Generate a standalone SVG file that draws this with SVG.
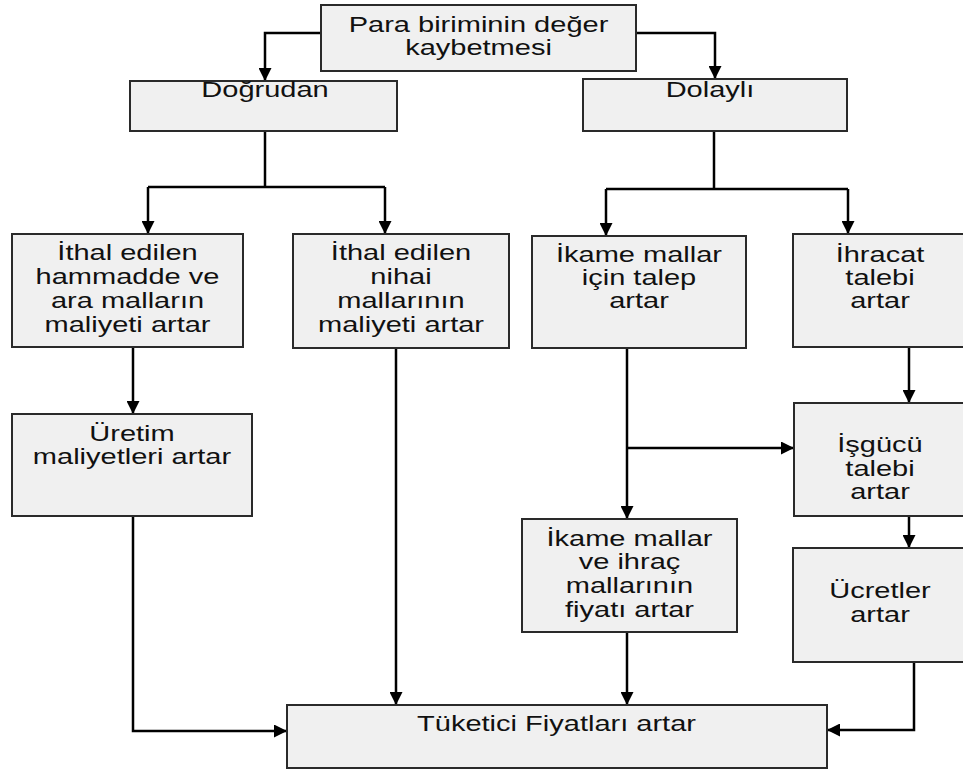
<svg xmlns="http://www.w3.org/2000/svg" width="963" height="771" viewBox="0 0 963 771">
<style>
.box{fill:#f0f0f0;stroke:#2a2a2a;stroke-width:2}
.t{font-family:"Liberation Sans",Arial,sans-serif;font-size:21.5px;text-anchor:middle;fill:#111}
.c{fill:none;stroke:#000;stroke-width:2.5}
</style>
<defs>
<marker id="ah" viewBox="0 0 10 10" refX="10" refY="5" markerWidth="13" markerHeight="13" markerUnits="userSpaceOnUse" orient="auto">
<path d="M0,0 L10,5 L0,10 z" fill="#000"/>
</marker>
</defs>
<rect width="963" height="771" fill="#fff"/>
<g id="connectors">
<path class="c" d="M321,33 H265 V81" marker-end="url(#ah)"/>
<path class="c" d="M636,33 H715 V79" marker-end="url(#ah)"/>
<path class="c" d="M265,131 V187"/>
<path class="c" d="M148,187 H385"/>
<path class="c" d="M148,187 V234" marker-end="url(#ah)"/>
<path class="c" d="M385,187 V234" marker-end="url(#ah)"/>
<path class="c" d="M714,131 V189"/>
<path class="c" d="M606,189 H848"/>
<path class="c" d="M606,189 V236" marker-end="url(#ah)"/>
<path class="c" d="M848,189 V234" marker-end="url(#ah)"/>
<path class="c" d="M133,347 V414" marker-end="url(#ah)"/>
<path class="c" d="M133,516 V731 H287" marker-end="url(#ah)"/>
<path class="c" d="M396,348 V705" marker-end="url(#ah)"/>
<path class="c" d="M627,348 V519" marker-end="url(#ah)"/>
<path class="c" d="M627,448 H794" marker-end="url(#ah)"/>
<path class="c" d="M909,347 V403" marker-end="url(#ah)"/>
<path class="c" d="M909,516 V548" marker-end="url(#ah)"/>
<path class="c" d="M914,662 V730 H827" marker-end="url(#ah)"/>
<path class="c" d="M627,632 V705" marker-end="url(#ah)"/>
</g>
<g id="para">
<rect class="box" x="321" y="5" width="315" height="66"/>
<text class="t" transform="translate(478.5,31.5) scale(1.35,1)">Para biriminin değer</text>
<text class="t" transform="translate(478.5,55) scale(1.35,1)">kaybetmesi</text>
</g>
<g id="dogrudan">
<rect class="box" x="130" y="81" width="267" height="50"/>
<text class="t" transform="translate(265,97) scale(1.35,1)">Doğrudan</text>
</g>
<g id="dolayli">
<rect class="box" x="583" y="79" width="264" height="52"/>
<text class="t" transform="translate(710,97) scale(1.35,1)">Dolaylı</text>
</g>
<g id="hammadde">
<rect class="box" x="12" y="234" width="231" height="113"/>
<text class="t" transform="translate(127.5,260) scale(1.35,1)">İthal edilen</text>
<text class="t" transform="translate(127.5,284) scale(1.35,1)">hammadde ve</text>
<text class="t" transform="translate(127.5,308) scale(1.35,1)">ara malların</text>
<text class="t" transform="translate(127.5,332) scale(1.35,1)">maliyeti artar</text>
</g>
<g id="nihai">
<rect class="box" x="293" y="234" width="216" height="114"/>
<text class="t" transform="translate(401,260) scale(1.35,1)">İthal edilen</text>
<text class="t" transform="translate(401,284) scale(1.35,1)">nihai</text>
<text class="t" transform="translate(401,308) scale(1.35,1)">mallarının</text>
<text class="t" transform="translate(401,332) scale(1.35,1)">maliyeti artar</text>
</g>
<g id="ikame-talep">
<rect class="box" x="532" y="236" width="214" height="112"/>
<text class="t" transform="translate(639,262) scale(1.35,1)">İkame mallar</text>
<text class="t" transform="translate(639,285) scale(1.35,1)">için talep</text>
<text class="t" transform="translate(639,308) scale(1.35,1)">artar</text>
</g>
<g id="ihracat">
<rect class="box" x="793" y="234" width="171" height="113"/>
<text class="t" transform="translate(880,262) scale(1.35,1)">İhracat</text>
<text class="t" transform="translate(880,285) scale(1.35,1)">talebi</text>
<text class="t" transform="translate(880,308) scale(1.35,1)">artar</text>
</g>
<g id="uretim">
<rect class="box" x="12" y="414" width="240" height="102"/>
<text class="t" transform="translate(132,441) scale(1.35,1)">Üretim</text>
<text class="t" transform="translate(132,464) scale(1.35,1)">maliyetleri artar</text>
</g>
<g id="isgucu">
<rect class="box" x="794" y="403" width="170" height="113"/>
<text class="t" transform="translate(880,452) scale(1.35,1)">İşgücü</text>
<text class="t" transform="translate(880,476) scale(1.35,1)">talebi</text>
<text class="t" transform="translate(880,499) scale(1.35,1)">artar</text>
</g>
<g id="ikame-fiyat">
<rect class="box" x="522" y="519" width="215" height="113"/>
<text class="t" transform="translate(629.5,546) scale(1.35,1)">İkame mallar</text>
<text class="t" transform="translate(629.5,569) scale(1.35,1)">ve ihraç</text>
<text class="t" transform="translate(629.5,593) scale(1.35,1)">mallarının</text>
<text class="t" transform="translate(629.5,617) scale(1.35,1)">fiyatı artar</text>
</g>
<g id="ucretler">
<rect class="box" x="793" y="548" width="171" height="114"/>
<text class="t" transform="translate(880,598) scale(1.35,1)">Ücretler</text>
<text class="t" transform="translate(880,622) scale(1.35,1)">artar</text>
</g>
<g id="tuketici">
<rect class="box" x="287" y="705" width="540" height="63"/>
<text class="t" transform="translate(556.5,731) scale(1.35,1)">Tüketici Fiyatları artar</text>
</g>
</svg>
